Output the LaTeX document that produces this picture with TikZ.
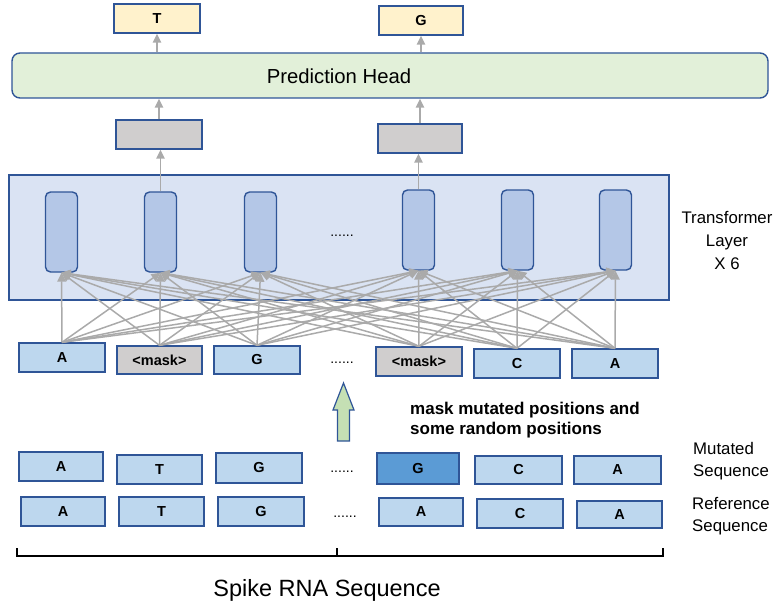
\documentclass[tikz,border=0pt]{standalone}
\usepackage{fontspec}
\setmainfont{Liberation Sans}
\usetikzlibrary{arrows.meta,calc}
\definecolor{bord}{HTML}{2F5597}
\definecolor{seqblue}{HTML}{BDD7EE}
\definecolor{darkblue}{HTML}{5B9BD5}
\definecolor{maskgray}{HTML}{D0CECE}
\definecolor{outyellow}{HTML}{FFF2CC}
\definecolor{headgreen}{HTML}{E2F0D9}
\definecolor{transbg}{HTML}{DAE3F3}
\definecolor{tallblue}{HTML}{B4C7E7}
\definecolor{arrgreen}{HTML}{C5E0B4}
\definecolor{arrgray}{HTML}{AAAAAA}
\begin{document}
\begin{tikzpicture}[x=1pt,y=-1pt,
  box/.style={draw=bord, line width=1.4pt, inner sep=0pt,
    font=\fontsize{14.5}{16}\selectfont\bfseries},
  seqbox/.style={box, fill=seqblue},
  maskbox/.style={box, fill=maskgray},
  outbox/.style={box, fill=outyellow, minimum width=85, minimum height=29},
  graybox/.style={box, fill=maskgray, minimum width=85, minimum height=29},
  tallbox/.style={draw=bord, line width=1.4pt, fill=tallblue, rounded corners=5pt,
    minimum width=32, minimum height=80, inner sep=0pt},
  garrow/.style={draw=arrgray, line width=1.5pt, -{Triangle[length=9pt,width=8.5pt]}},
  dots/.style={font=\fontsize{14}{16}\selectfont, inner sep=0pt},
  lbl/.style={font=\fontsize{16.8}{22}\selectfont, inner sep=0pt, align=left},
]
\useasboundingbox (0,0) rectangle (777,610);

% output boxes
\node[outbox, minimum width=86] (oT) at (157,18.5) {T};
\node[outbox, minimum width=84] (oG) at (421,20.5) {G};

% prediction head
\node[draw=bord, line width=1.4pt, fill=headgreen, rounded corners=8pt,
  minimum width=756, minimum height=45, inner sep=0pt] (head) at (390,75.5) {};
\node[font=\fontsize{20.3}{24}\selectfont, inner sep=0pt] (headtext) at (339,76) {Prediction Head};

% gray boxes
\node[graybox, minimum width=86] (g1) at (159,134.5) {};
\node[graybox, minimum width=84] (g2) at (420,138.5) {};

% transformer
\node[draw=bord, line width=1.4pt, fill=transbg, minimum width=660, minimum height=125,
  inner sep=0pt] (trans) at (339,237.5) {};
\node[tallbox] (t1) at (61.5,232) {};
\node[tallbox] (t2) at (160.5,232) {};
\node[tallbox] (t3) at (260.5,232) {};
\node[tallbox] (t4) at (418.5,230) {};
\node[tallbox] (t5) at (517.5,230) {};
\node[tallbox] (t6) at (615.5,230) {};
\node[dots] (tdots) at (342,236) {......};
\node[font=\fontsize{16.8}{23}\selectfont, inner sep=0pt, align=center] (translbl) at (727,241) {Transformer\\Layer\\X 6};

% input row
\node[seqbox, minimum width=86, minimum height=29] (i1) at (62,357.5) {A};
\node[maskbox, minimum width=85, minimum height=28] (i2) at (159.5,360) {<mask>};
\node[seqbox, minimum width=86, minimum height=28] (i3) at (257,360) {G};
\node[dots] (idots) at (342,363) {......};
\node[maskbox, minimum width=86, minimum height=29] (i4) at (419,361.5) {<mask>};
\node[seqbox, minimum width=86, minimum height=29] (i5) at (517,363.5) {C};
\node[seqbox, minimum width=86, minimum height=29] (i6) at (615,363.5) {A};

% connections
\draw[garrow] (oT.south |- head.north) -- (oT.south);
\draw[garrow] (oG.south |- head.north) -- (oG.south);
\draw[garrow] (g1.north) -- (g1.north |- head.south);
\draw[garrow] (g2.north) -- (g2.north |- head.south);
\draw[garrow] (t2.north) -- (t2.north |- g1.south);
\draw[garrow] (t4.north) -- (t4.north |- g2.south);
\foreach \i in {i1,i2,i3,i4,i5,i6}
  \foreach \j in {t1,t2,t3,t4,t5,t6}
    \draw[garrow] (\i.north) -- (\j.south);

% green arrow
\draw[draw=bord, line width=1.2pt, fill=arrgreen, line join=miter]
  (337.5,441) -- (337.5,410) -- (333,410) -- (343.5,383) -- (354,410) -- (349.5,410) -- (349.5,441) -- cycle;
\node[font=\fontsize{17}{20}\selectfont\bfseries, inner sep=0pt, align=left, anchor=west] (masktext) at (410,420) {mask mutated positions and\\some random positions};

% mutated row
\node[seqbox, minimum width=84, minimum height=29] (m1) at (61,466.5) {A};
\node[seqbox, minimum width=85, minimum height=29] (m2) at (159.5,469.5) {T};
\node[seqbox, minimum width=86, minimum height=30] (m3) at (259,468) {G};
\node[dots] (mdots) at (342,472) {......};
\node[box, fill=darkblue, minimum width=82, minimum height=31] (m4) at (418,468.5) {G};
\node[seqbox, minimum width=87, minimum height=28] (m5) at (518.5,470) {C};
\node[seqbox, minimum width=87, minimum height=28] (m6) at (617.5,470) {A};
\node[lbl, anchor=west] (mutlbl) at (693,461) {Mutated\\Sequence};

% reference row
\node[seqbox, minimum width=84, minimum height=29] (r1) at (63,511.5) {A};
\node[seqbox, minimum width=85, minimum height=29] (r2) at (161.5,511.5) {T};
\node[seqbox, minimum width=86, minimum height=29] (r3) at (261,511.5) {G};
\node[dots] (rdots) at (345,517) {......};
\node[seqbox, minimum width=84, minimum height=28] (r4) at (421,512) {A};
\node[seqbox, minimum width=86, minimum height=29] (r5) at (520,513.5) {C};
\node[seqbox, minimum width=85, minimum height=27] (r6) at (619.5,514.5) {A};
\node[lbl, anchor=west] (reflbl) at (692,516.5) {Reference\\Sequence};

% bracket
\coordinate (bl) at (17,548);
\coordinate (br) at (663,548);
\coordinate (bm) at (337,548);
\draw[line width=1.4pt] (bl) -- ++(0,8) -- ($(br)+(0,8)$) -- (br);
\draw[line width=1.4pt] (bm) -- ++(0,8);
\node[font=\fontsize{23.5}{27}\selectfont, inner sep=0pt] (spike) at (327,590) {Spike RNA Sequence};
\end{tikzpicture}
\end{document}
